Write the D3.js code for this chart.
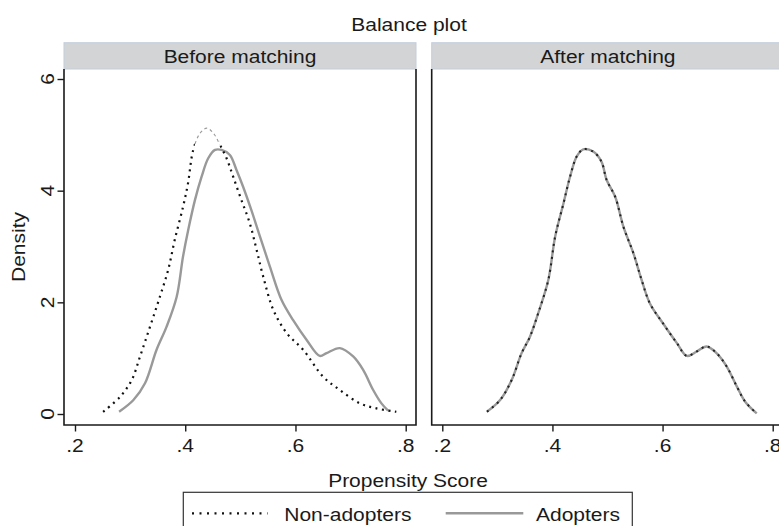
<!DOCTYPE html>
<html lang="en">
<head>
<meta charset="UTF-8">
<title>Balance plot</title>
<script src="https://cdn.jsdelivr.net/npm/d3@7"></script>
<style>
  body { margin: 0; background: #fff; }
  text { font-family: "Liberation Sans", Arial, sans-serif; fill: #1a1a1a; }
</style>
</head>
<body>
<svg width="779" height="526"></svg>
<script>
// density estimates: [propensity score, density]
var nonAdoptersBefore = [
  [0.251, 0.04], [0.282, 0.31], [0.303, 0.61], [0.318, 1.03], [0.336, 1.56],
  [0.354, 2.10], [0.369, 2.58], [0.381, 3.12], [0.396, 3.71], [0.405, 4.13],
  [0.4145, 4.73], [0.427, 5.03], [0.439, 5.12], [0.451, 5.03], [0.463, 4.82],
  [0.475, 4.58], [0.487, 4.25], [0.502, 3.83], [0.517, 3.42], [0.5295, 2.94],
  [0.5415, 2.46], [0.560, 1.86], [0.584, 1.45], [0.614, 1.15], [0.650, 0.67],
  [0.6805, 0.43], [0.717, 0.19], [0.747, 0.10], [0.783, 0.04]
];
var adoptersBefore = [
  [0.280, 0.04], [0.306, 0.25], [0.327, 0.55], [0.348, 1.15], [0.366, 1.56],
  [0.3845, 2.10], [0.396, 2.82], [0.4055, 3.30], [0.4176, 3.83], [0.4297, 4.25],
  [0.4417, 4.58], [0.454, 4.73], [0.466, 4.73], [0.481, 4.64], [0.493, 4.37],
  [0.505, 4.07], [0.520, 3.65], [0.5355, 3.18], [0.5536, 2.64], [0.5748, 2.04],
  [0.5958, 1.68], [0.620, 1.33], [0.644, 1.04], [0.6565, 1.09], [0.6805, 1.18],
  [0.7047, 1.03], [0.7228, 0.79], [0.741, 0.43], [0.756, 0.19], [0.768, 0.06]
];
var adoptersAfter = [
  [0.281, 0.04], [0.305, 0.25], [0.326, 0.61], [0.344, 1.09], [0.359, 1.38],
  [0.374, 1.80], [0.3925, 2.40], [0.405, 3.18], [0.420, 3.77], [0.432, 4.25],
  [0.444, 4.61], [0.456, 4.74], [0.474, 4.70], [0.489, 4.52], [0.4985, 4.19],
  [0.514, 3.89], [0.529, 3.35], [0.547, 2.88], [0.562, 2.40], [0.577, 1.98],
  [0.601, 1.62], [0.626, 1.27], [0.644, 1.04], [0.662, 1.12], [0.680, 1.21],
  [0.698, 1.09], [0.7165, 0.85], [0.735, 0.49], [0.750, 0.22], [0.771, 0.01]
];
var nonAdoptersAfter = [
  [0.281, 0.04], [0.305, 0.25], [0.326, 0.61], [0.344, 1.09], [0.359, 1.38],
  [0.374, 1.80], [0.3925, 2.40], [0.405, 3.18], [0.420, 3.77], [0.432, 4.25],
  [0.444, 4.61], [0.456, 4.74], [0.474, 4.70], [0.489, 4.52], [0.4985, 4.19],
  [0.514, 3.89], [0.529, 3.35], [0.547, 2.88], [0.562, 2.40], [0.577, 1.98],
  [0.601, 1.62], [0.626, 1.27], [0.644, 1.04], [0.662, 1.12], [0.680, 1.21],
  [0.698, 1.09], [0.7165, 0.85], [0.735, 0.49], [0.750, 0.22], [0.771, 0.01]
];
var panelTitles = ['Before matching', 'After matching'];
var xTicks = [0.2, 0.4, 0.6, 0.8];
var yTicks = [0, 2, 4, 6];
var legendLabels = ['Non-adopters', 'Adopters'];

var SX = 1.135; // the fonts in the picture are a bit wider than Liberation Sans
var FS = 18.5;
var svg = d3.select('svg');

function label(g, s, x, y, rot, anchor) {
  return g.append('text')
    .attr('transform', 'translate(' + x + ',' + y + ') rotate(' + (rot || 0) + ') scale(' + SX + ',1)')
    .attr('text-anchor', anchor || 'middle')
    .attr('font-size', FS)
    .text(s);
}

var y = d3.scaleLinear().domain([0, 6]).range([414, 79]);
var panels = [
  { left: 64, right: 416, x: d3.scaleLinear().domain([0.2, 0.8]).range([75, 405.7]),
    non: nonAdoptersBefore, ad: adoptersBefore },
  { left: 431.7, right: 784, x: d3.scaleLinear().domain([0.2, 0.8]).range([442.3, 772.7]),
    non: nonAdoptersAfter, ad: adoptersAfter }
];
var stripTop = 42.7, plotTop = 69, plotBottom = 425;

label(svg, 'Balance plot', 409, 31);

var defs = svg.append('defs');

panels.forEach(function (p, i) {
  var g = svg.append('g');
  // strip
  g.append('rect')
    .attr('x', p.left).attr('y', stripTop)
    .attr('width', p.right - p.left).attr('height', plotTop - stripTop)
    .attr('fill', '#d3d4d6').attr('stroke', '#c4cedb').attr('stroke-width', 1);
  label(g, panelTitles[i], (p.left + p.right) / 2, 63);

  var line = d3.line()
    .x(function (d) { return p.x(d[0]); })
    .y(function (d) { return y(d[1]); })
    .curve(d3.curveCatmullRom.alpha(0.5));

  // adopters (solid gray) under the dotted line
  g.append('path').datum(p.ad).attr('d', line)
    .attr('fill', 'none').attr('stroke', '#999').attr('stroke-width', 2.4);

  if (i === 0) {
    // around the peak the dotted curve is drawn as thin gray dashes in the picture
    var a = p.x(0.4175), b = p.x(0.462);
    defs.append('clipPath').attr('id', 'outside')
      .selectAll('rect').data([[0, a], [b, 800]]).join('rect')
      .attr('x', function (d) { return d[0]; }).attr('y', 0)
      .attr('width', function (d) { return d[1] - d[0]; }).attr('height', 526);
    defs.append('clipPath').attr('id', 'inside')
      .append('rect').attr('x', a).attr('y', 0).attr('width', b - a).attr('height', 526);
    g.append('path').datum(p.non).attr('d', line).attr('clip-path', 'url(#outside)')
      .attr('fill', 'none').attr('stroke', '#111').attr('stroke-width', 2.2)
      .attr('stroke-dasharray', '2,4.5');
    g.append('path').datum(p.non).attr('d', line).attr('clip-path', 'url(#inside)')
      .attr('fill', 'none').attr('stroke', '#9a9a9a').attr('stroke-width', 1.1)
      .attr('stroke-dasharray', '3,3');
  } else {
    g.append('path').datum(p.non).attr('d', line)
      .attr('fill', 'none').attr('stroke', '#222').attr('stroke-width', 2)
      .attr('stroke-dasharray', '2,4.5');
  }

  // frame: left, right, bottom
  g.append('path')
    .attr('d', 'M' + p.left + ',' + plotTop + 'V' + plotBottom + 'H' + p.right + 'V' + plotTop)
    .attr('fill', 'none').attr('stroke', '#1a1a1a').attr('stroke-width', 1.6);

  // x axis
  var xa = g.append('g').attr('transform', 'translate(0,' + plotBottom + ')');
  xa.call(d3.axisBottom(p.x).tickValues(xTicks).tickSize(6.5).tickFormat(''));
  xa.select('.domain').remove();
  xa.selectAll('line').attr('stroke', '#1a1a1a').attr('stroke-width', 1.4);
  xTicks.forEach(function (t) {
    label(g, d3.format('.1f')(t).replace(/^0/, ''), p.x(t), 452);
  });

  if (i === 0) {
    var ya = g.append('g').attr('transform', 'translate(' + p.left + ',0)');
    ya.call(d3.axisLeft(y).tickValues(yTicks).tickSize(6.5).tickFormat(''));
    ya.select('.domain').remove();
    ya.selectAll('line').attr('stroke', '#1a1a1a').attr('stroke-width', 1.4);
    yTicks.forEach(function (t) {
      label(g, String(t), 53.5, y(t), -90);
    });
  }
});

label(svg, 'Density', 24.5, 247, -90);
label(svg, 'Propensity Score', 408, 486.5);

// legend
var lg = svg.append('g');
lg.append('rect').attr('x', 183.3).attr('y', 492.3).attr('width', 449).attr('height', 60)
  .attr('fill', 'none').attr('stroke', '#333').attr('stroke-width', 1.2);
lg.append('line').attr('x1', 192).attr('x2', 267.5).attr('y1', 513.3).attr('y2', 513.3)
  .attr('stroke', '#111').attr('stroke-width', 2.2).attr('stroke-dasharray', '2,5.5');
label(lg, legendLabels[0], 284.3, 521, 0, 'start');
lg.append('line').attr('x1', 445.7).attr('x2', 523.3).attr('y1', 513.3).attr('y2', 513.3)
  .attr('stroke', '#999').attr('stroke-width', 2.4);
label(lg, legendLabels[1], 536, 521, 0, 'start');
</script>
</body>
</html>
